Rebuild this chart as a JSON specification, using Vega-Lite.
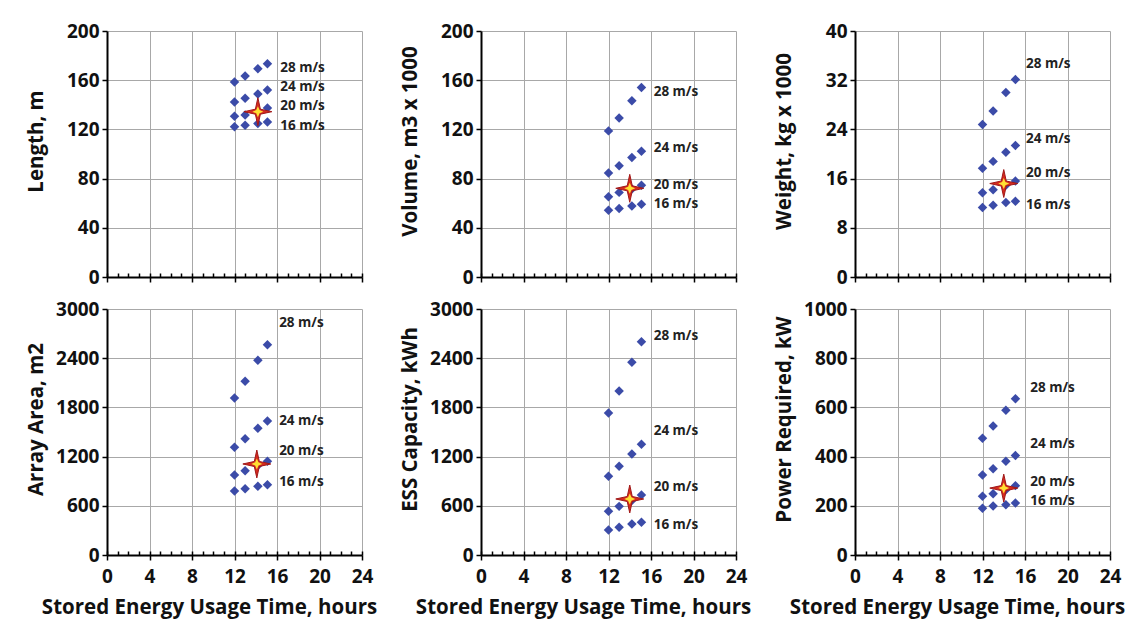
{
  "$schema": "https://vega.github.io/schema/vega-lite/v6.json",
  "background": "white",
  "padding": {"left": 25, "top": 22, "right": 5, "bottom": 5},
  "bounds": "flush",
  "columns": 3,
  "spacing": {"row": 32, "column": 119},
  "datasets": {
    "points": [
      {"panel": "Length", "speed": 28, "x": 12, "y": 158.5}, {"panel": "Length", "speed": 28, "x": 13, "y": 163.4}, {"panel": "Length", "speed": 28, "x": 14.2, "y": 169.4}, {"panel": "Length", "speed": 28, "x": 15.1, "y": 173.4},
      {"panel": "Length", "speed": 24, "x": 12, "y": 142.3}, {"panel": "Length", "speed": 24, "x": 13, "y": 145.3}, {"panel": "Length", "speed": 24, "x": 14.2, "y": 148.8}, {"panel": "Length", "speed": 24, "x": 15.1, "y": 152.0},
      {"panel": "Length", "speed": 20, "x": 12, "y": 130.6}, {"panel": "Length", "speed": 20, "x": 13, "y": 131.7}, {"panel": "Length", "speed": 20, "x": 14.2, "y": 134.5}, {"panel": "Length", "speed": 20, "x": 15.1, "y": 137.4},
      {"panel": "Length", "speed": 16, "x": 12, "y": 122.2}, {"panel": "Length", "speed": 16, "x": 13, "y": 123.3}, {"panel": "Length", "speed": 16, "x": 14.2, "y": 124.7}, {"panel": "Length", "speed": 16, "x": 15.1, "y": 126.0},
      {"panel": "Volume", "speed": 28, "x": 12, "y": 118.8}, {"panel": "Volume", "speed": 28, "x": 13, "y": 129.3}, {"panel": "Volume", "speed": 28, "x": 14.2, "y": 143.3}, {"panel": "Volume", "speed": 28, "x": 15.1, "y": 154.1},
      {"panel": "Volume", "speed": 24, "x": 12, "y": 84.5}, {"panel": "Volume", "speed": 24, "x": 13, "y": 90.4}, {"panel": "Volume", "speed": 24, "x": 14.2, "y": 97.2}, {"panel": "Volume", "speed": 24, "x": 15.1, "y": 102.3},
      {"panel": "Volume", "speed": 20, "x": 12, "y": 65.3}, {"panel": "Volume", "speed": 20, "x": 13, "y": 68.8}, {"panel": "Volume", "speed": 20, "x": 14.2, "y": 71.5}, {"panel": "Volume", "speed": 20, "x": 15.1, "y": 74.5},
      {"panel": "Volume", "speed": 16, "x": 12, "y": 54.3}, {"panel": "Volume", "speed": 16, "x": 13, "y": 55.6}, {"panel": "Volume", "speed": 16, "x": 14.2, "y": 57.8}, {"panel": "Volume", "speed": 16, "x": 15.1, "y": 59.1},
      {"panel": "Weight", "speed": 28, "x": 12, "y": 24.8}, {"panel": "Weight", "speed": 28, "x": 13, "y": 27.0}, {"panel": "Weight", "speed": 28, "x": 14.2, "y": 30.0}, {"panel": "Weight", "speed": 28, "x": 15.1, "y": 32.1},
      {"panel": "Weight", "speed": 24, "x": 12, "y": 17.7}, {"panel": "Weight", "speed": 24, "x": 13, "y": 18.8}, {"panel": "Weight", "speed": 24, "x": 14.2, "y": 20.3}, {"panel": "Weight", "speed": 24, "x": 15.1, "y": 21.4},
      {"panel": "Weight", "speed": 20, "x": 12, "y": 13.7}, {"panel": "Weight", "speed": 20, "x": 13, "y": 14.2}, {"panel": "Weight", "speed": 20, "x": 14.2, "y": 14.9}, {"panel": "Weight", "speed": 20, "x": 15.1, "y": 15.6},
      {"panel": "Weight", "speed": 16, "x": 12, "y": 11.3}, {"panel": "Weight", "speed": 16, "x": 13, "y": 11.65}, {"panel": "Weight", "speed": 16, "x": 14.2, "y": 12.1}, {"panel": "Weight", "speed": 16, "x": 15.1, "y": 12.3},
      {"panel": "Array", "speed": 28, "x": 12, "y": 1915}, {"panel": "Array", "speed": 28, "x": 13, "y": 2118}, {"panel": "Array", "speed": 28, "x": 14.2, "y": 2374}, {"panel": "Array", "speed": 28, "x": 15.1, "y": 2565},
      {"panel": "Array", "speed": 24, "x": 12, "y": 1313}, {"panel": "Array", "speed": 24, "x": 13, "y": 1419}, {"panel": "Array", "speed": 24, "x": 14.2, "y": 1545}, {"panel": "Array", "speed": 24, "x": 15.1, "y": 1634},
      {"panel": "Array", "speed": 20, "x": 12, "y": 976}, {"panel": "Array", "speed": 20, "x": 13, "y": 1028}, {"panel": "Array", "speed": 20, "x": 14.2, "y": 1090}, {"panel": "Array", "speed": 20, "x": 15.1, "y": 1142},
      {"panel": "Array", "speed": 16, "x": 12, "y": 780}, {"panel": "Array", "speed": 16, "x": 13, "y": 809}, {"panel": "Array", "speed": 16, "x": 14.2, "y": 837}, {"panel": "Array", "speed": 16, "x": 15.1, "y": 858},
      {"panel": "ESS", "speed": 28, "x": 12, "y": 1732}, {"panel": "ESS", "speed": 28, "x": 13, "y": 2000}, {"panel": "ESS", "speed": 28, "x": 14.2, "y": 2350}, {"panel": "ESS", "speed": 28, "x": 15.1, "y": 2602},
      {"panel": "ESS", "speed": 24, "x": 12, "y": 959}, {"panel": "ESS", "speed": 24, "x": 13, "y": 1081}, {"panel": "ESS", "speed": 24, "x": 14.2, "y": 1232}, {"panel": "ESS", "speed": 24, "x": 15.1, "y": 1350},
      {"panel": "ESS", "speed": 20, "x": 12, "y": 533}, {"panel": "ESS", "speed": 20, "x": 13, "y": 593}, {"panel": "ESS", "speed": 20, "x": 14.2, "y": 665}, {"panel": "ESS", "speed": 20, "x": 15.1, "y": 732},
      {"panel": "ESS", "speed": 16, "x": 12, "y": 305}, {"panel": "ESS", "speed": 16, "x": 13, "y": 337}, {"panel": "ESS", "speed": 16, "x": 14.2, "y": 378}, {"panel": "ESS", "speed": 16, "x": 15.1, "y": 398},
      {"panel": "Power", "speed": 28, "x": 12, "y": 475}, {"panel": "Power", "speed": 28, "x": 13, "y": 524}, {"panel": "Power", "speed": 28, "x": 14.2, "y": 588}, {"panel": "Power", "speed": 28, "x": 15.1, "y": 635},
      {"panel": "Power", "speed": 24, "x": 12, "y": 325}, {"panel": "Power", "speed": 24, "x": 13, "y": 351}, {"panel": "Power", "speed": 24, "x": 14.2, "y": 381}, {"panel": "Power", "speed": 24, "x": 15.1, "y": 404},
      {"panel": "Power", "speed": 20, "x": 12, "y": 239}, {"panel": "Power", "speed": 20, "x": 13, "y": 249}, {"panel": "Power", "speed": 20, "x": 14.2, "y": 265}, {"panel": "Power", "speed": 20, "x": 15.1, "y": 282},
      {"panel": "Power", "speed": 16, "x": 12, "y": 190}, {"panel": "Power", "speed": 16, "x": 13, "y": 199}, {"panel": "Power", "speed": 16, "x": 14.2, "y": 204}, {"panel": "Power", "speed": 16, "x": 15.1, "y": 211}
    ],
    "stars": [
      {"panel": "Length", "x": 14.2, "y": 134.4},
      {"panel": "Volume", "x": 14.0, "y": 72.1},
      {"panel": "Weight", "x": 14.0, "y": 15.2},
      {"panel": "Array", "x": 14.1, "y": 1110},
      {"panel": "ESS", "x": 14.0, "y": 683},
      {"panel": "Power", "x": 14.0, "y": 272}
    ],
    "labels": [
      {"panel": "Length", "label": "28 m/s", "x": 16.3, "y": 169.6}, {"panel": "Length", "label": "24 m/s", "x": 16.3, "y": 154.7}, {"panel": "Length", "label": "20 m/s", "x": 16.3, "y": 139}, {"panel": "Length", "label": "16 m/s", "x": 16.3, "y": 122.8},
      {"panel": "Volume", "label": "28 m/s", "x": 16.25, "y": 150.6}, {"panel": "Volume", "label": "24 m/s", "x": 16.25, "y": 104.7}, {"panel": "Volume", "label": "20 m/s", "x": 16.25, "y": 74.5}, {"panel": "Volume", "label": "16 m/s", "x": 16.25, "y": 59.6},
      {"panel": "Weight", "label": "28 m/s", "x": 16.1, "y": 34.7}, {"panel": "Weight", "label": "24 m/s", "x": 16.1, "y": 22.4}, {"panel": "Weight", "label": "20 m/s", "x": 16.1, "y": 16.9}, {"panel": "Weight", "label": "16 m/s", "x": 16.1, "y": 11.65},
      {"panel": "Array", "label": "28 m/s", "x": 16.2, "y": 2825}, {"panel": "Array", "label": "24 m/s", "x": 16.2, "y": 1638}, {"panel": "Array", "label": "20 m/s", "x": 16.2, "y": 1264}, {"panel": "Array", "label": "16 m/s", "x": 16.2, "y": 894},
      {"panel": "ESS", "label": "28 m/s", "x": 16.25, "y": 2675}, {"panel": "ESS", "label": "24 m/s", "x": 16.25, "y": 1516}, {"panel": "ESS", "label": "20 m/s", "x": 16.25, "y": 833}, {"panel": "ESS", "label": "16 m/s", "x": 16.25, "y": 370},
      {"panel": "Power", "label": "28 m/s", "x": 16.5, "y": 680}, {"panel": "Power", "label": "24 m/s", "x": 16.5, "y": 452}, {"panel": "Power", "label": "20 m/s", "x": 16.5, "y": 298}, {"panel": "Power", "label": "16 m/s", "x": 16.5, "y": 220}
    ]
  },
  "concat": [
    {
      "width": 255, "height": 246,
      "resolve": {"axis": {"x": "independent"}},
      "layer": [
        {"data": {"name": "points"}, "transform": [{"filter": "datum.panel == 'Length'"}],
         "mark": {"type": "point", "shape": "diamond", "filled": true, "size": 90, "color": "#3b4ba8", "opacity": 1},
         "encoding": {
           "x": {"field": "x", "type": "quantitative", "scale": {"domain": [0, 24], "nice": false}, "axis": {"title": null, "labels": false, "values": [0,4,8,12,16,20,24]}},
           "y": {"field": "y", "type": "quantitative", "scale": {"domain": [0, 200], "nice": false}, "axis": {"title": "Length, m", "values": [0,40,80,120,160,200]}}
         }},
        {"data": {"name": "stars"}, "transform": [{"filter": "datum.panel == 'Length'"}],
         "mark": {"type": "point", "shape": "M0,-1L0.18,-0.18L1,0L0.18,0.18L0,1L-0.18,0.18L-1,0L-0.18,-0.18Z", "filled": true, "size": 780, "color": "#d62a1f", "stroke": "#a01818", "strokeWidth": 1, "opacity": 1},
         "encoding": {"x": {"field": "x", "type": "quantitative", "axis": null}, "y": {"field": "y", "type": "quantitative"}}},
        {"data": {"name": "stars"}, "transform": [{"filter": "datum.panel == 'Length'"}],
         "mark": {"type": "point", "shape": "M0,-1L0.3,-0.3L1,0L0.3,0.3L0,1L-0.3,0.3L-1,0L-0.3,-0.3Z", "filled": true, "size": 120, "color": "#ffe033", "opacity": 1},
         "encoding": {"x": {"field": "x", "type": "quantitative", "axis": null}, "y": {"field": "y", "type": "quantitative"}}},
        {"data": {"name": "labels"}, "transform": [{"filter": "datum.panel == 'Length'"}],
         "mark": {"type": "text", "align": "left", "baseline": "middle", "font": "Open Sans", "fontSize": 13.5, "fontWeight": "bold", "color": "#222222"},
         "encoding": {"x": {"field": "x", "type": "quantitative", "axis": {"orient": "bottom", "title": null, "labels": false, "grid": false, "domain": false, "tickSize": -4, "values": [0,1,2,3,4,5,6,7,8,9,10,11,12,13,14,15,16,17,18,19,20,21,22,23,24]}}, "y": {"field": "y", "type": "quantitative"}, "text": {"field": "label"}}}
      ]
    },
    {
      "width": 255, "height": 246,
      "resolve": {"axis": {"x": "independent"}},
      "layer": [
        {"data": {"name": "points"}, "transform": [{"filter": "datum.panel == 'Volume'"}],
         "mark": {"type": "point", "shape": "diamond", "filled": true, "size": 90, "color": "#3b4ba8", "opacity": 1},
         "encoding": {
           "x": {"field": "x", "type": "quantitative", "scale": {"domain": [0, 24], "nice": false}, "axis": {"title": null, "labels": false, "values": [0,4,8,12,16,20,24]}},
           "y": {"field": "y", "type": "quantitative", "scale": {"domain": [0, 200], "nice": false}, "axis": {"title": "Volume, m3 x 1000", "values": [0,40,80,120,160,200]}}
         }},
        {"data": {"name": "stars"}, "transform": [{"filter": "datum.panel == 'Volume'"}],
         "mark": {"type": "point", "shape": "M0,-1L0.18,-0.18L1,0L0.18,0.18L0,1L-0.18,0.18L-1,0L-0.18,-0.18Z", "filled": true, "size": 780, "color": "#d62a1f", "stroke": "#a01818", "strokeWidth": 1, "opacity": 1},
         "encoding": {"x": {"field": "x", "type": "quantitative", "axis": null}, "y": {"field": "y", "type": "quantitative"}}},
        {"data": {"name": "stars"}, "transform": [{"filter": "datum.panel == 'Volume'"}],
         "mark": {"type": "point", "shape": "M0,-1L0.3,-0.3L1,0L0.3,0.3L0,1L-0.3,0.3L-1,0L-0.3,-0.3Z", "filled": true, "size": 120, "color": "#ffe033", "opacity": 1},
         "encoding": {"x": {"field": "x", "type": "quantitative", "axis": null}, "y": {"field": "y", "type": "quantitative"}}},
        {"data": {"name": "labels"}, "transform": [{"filter": "datum.panel == 'Volume'"}],
         "mark": {"type": "text", "align": "left", "baseline": "middle", "font": "Open Sans", "fontSize": 13.5, "fontWeight": "bold", "color": "#222222"},
         "encoding": {"x": {"field": "x", "type": "quantitative", "axis": {"orient": "bottom", "title": null, "labels": false, "grid": false, "domain": false, "tickSize": -4, "values": [0,1,2,3,4,5,6,7,8,9,10,11,12,13,14,15,16,17,18,19,20,21,22,23,24]}}, "y": {"field": "y", "type": "quantitative"}, "text": {"field": "label"}}}
      ]
    },
    {
      "width": 255, "height": 246,
      "resolve": {"axis": {"x": "independent"}},
      "layer": [
        {"data": {"name": "points"}, "transform": [{"filter": "datum.panel == 'Weight'"}],
         "mark": {"type": "point", "shape": "diamond", "filled": true, "size": 90, "color": "#3b4ba8", "opacity": 1},
         "encoding": {
           "x": {"field": "x", "type": "quantitative", "scale": {"domain": [0, 24], "nice": false}, "axis": {"title": null, "labels": false, "values": [0,4,8,12,16,20,24]}},
           "y": {"field": "y", "type": "quantitative", "scale": {"domain": [0, 40], "nice": false}, "axis": {"title": "Weight, kg x 1000", "values": [0,8,16,24,32,40]}}
         }},
        {"data": {"name": "stars"}, "transform": [{"filter": "datum.panel == 'Weight'"}],
         "mark": {"type": "point", "shape": "M0,-1L0.18,-0.18L1,0L0.18,0.18L0,1L-0.18,0.18L-1,0L-0.18,-0.18Z", "filled": true, "size": 780, "color": "#d62a1f", "stroke": "#a01818", "strokeWidth": 1, "opacity": 1},
         "encoding": {"x": {"field": "x", "type": "quantitative", "axis": null}, "y": {"field": "y", "type": "quantitative"}}},
        {"data": {"name": "stars"}, "transform": [{"filter": "datum.panel == 'Weight'"}],
         "mark": {"type": "point", "shape": "M0,-1L0.3,-0.3L1,0L0.3,0.3L0,1L-0.3,0.3L-1,0L-0.3,-0.3Z", "filled": true, "size": 120, "color": "#ffe033", "opacity": 1},
         "encoding": {"x": {"field": "x", "type": "quantitative", "axis": null}, "y": {"field": "y", "type": "quantitative"}}},
        {"data": {"name": "labels"}, "transform": [{"filter": "datum.panel == 'Weight'"}],
         "mark": {"type": "text", "align": "left", "baseline": "middle", "font": "Open Sans", "fontSize": 13.5, "fontWeight": "bold", "color": "#222222"},
         "encoding": {"x": {"field": "x", "type": "quantitative", "axis": {"orient": "bottom", "title": null, "labels": false, "grid": false, "domain": false, "tickSize": -4, "values": [0,1,2,3,4,5,6,7,8,9,10,11,12,13,14,15,16,17,18,19,20,21,22,23,24]}}, "y": {"field": "y", "type": "quantitative"}, "text": {"field": "label"}}}
      ]
    },
    {
      "width": 255, "height": 246,
      "resolve": {"axis": {"x": "independent"}},
      "layer": [
        {"data": {"name": "points"}, "transform": [{"filter": "datum.panel == 'Array'"}],
         "mark": {"type": "point", "shape": "diamond", "filled": true, "size": 90, "color": "#3b4ba8", "opacity": 1},
         "encoding": {
           "x": {"field": "x", "type": "quantitative", "scale": {"domain": [0, 24], "nice": false}, "axis": {"title": "Stored Energy Usage Time, hours", "values": [0,4,8,12,16,20,24]}},
           "y": {"field": "y", "type": "quantitative", "scale": {"domain": [0, 3000], "nice": false}, "axis": {"title": "Array Area, m2", "format": "d", "values": [0,600,1200,1800,2400,3000]}}
         }},
        {"data": {"name": "stars"}, "transform": [{"filter": "datum.panel == 'Array'"}],
         "mark": {"type": "point", "shape": "M0,-1L0.18,-0.18L1,0L0.18,0.18L0,1L-0.18,0.18L-1,0L-0.18,-0.18Z", "filled": true, "size": 780, "color": "#d62a1f", "stroke": "#a01818", "strokeWidth": 1, "opacity": 1},
         "encoding": {"x": {"field": "x", "type": "quantitative", "axis": null}, "y": {"field": "y", "type": "quantitative"}}},
        {"data": {"name": "stars"}, "transform": [{"filter": "datum.panel == 'Array'"}],
         "mark": {"type": "point", "shape": "M0,-1L0.3,-0.3L1,0L0.3,0.3L0,1L-0.3,0.3L-1,0L-0.3,-0.3Z", "filled": true, "size": 120, "color": "#ffe033", "opacity": 1},
         "encoding": {"x": {"field": "x", "type": "quantitative", "axis": null}, "y": {"field": "y", "type": "quantitative"}}},
        {"data": {"name": "labels"}, "transform": [{"filter": "datum.panel == 'Array'"}],
         "mark": {"type": "text", "align": "left", "baseline": "middle", "font": "Open Sans", "fontSize": 13.5, "fontWeight": "bold", "color": "#222222"},
         "encoding": {"x": {"field": "x", "type": "quantitative", "axis": {"orient": "bottom", "title": null, "labels": false, "grid": false, "domain": false, "tickSize": -4, "values": [0,1,2,3,4,5,6,7,8,9,10,11,12,13,14,15,16,17,18,19,20,21,22,23,24]}}, "y": {"field": "y", "type": "quantitative"}, "text": {"field": "label"}}}
      ]
    },
    {
      "width": 255, "height": 246,
      "resolve": {"axis": {"x": "independent"}},
      "layer": [
        {"data": {"name": "points"}, "transform": [{"filter": "datum.panel == 'ESS'"}],
         "mark": {"type": "point", "shape": "diamond", "filled": true, "size": 90, "color": "#3b4ba8", "opacity": 1},
         "encoding": {
           "x": {"field": "x", "type": "quantitative", "scale": {"domain": [0, 24], "nice": false}, "axis": {"title": "Stored Energy Usage Time, hours", "values": [0,4,8,12,16,20,24]}},
           "y": {"field": "y", "type": "quantitative", "scale": {"domain": [0, 3000], "nice": false}, "axis": {"title": "ESS Capacity, kWh", "format": "d", "values": [0,600,1200,1800,2400,3000]}}
         }},
        {"data": {"name": "stars"}, "transform": [{"filter": "datum.panel == 'ESS'"}],
         "mark": {"type": "point", "shape": "M0,-1L0.18,-0.18L1,0L0.18,0.18L0,1L-0.18,0.18L-1,0L-0.18,-0.18Z", "filled": true, "size": 780, "color": "#d62a1f", "stroke": "#a01818", "strokeWidth": 1, "opacity": 1},
         "encoding": {"x": {"field": "x", "type": "quantitative", "axis": null}, "y": {"field": "y", "type": "quantitative"}}},
        {"data": {"name": "stars"}, "transform": [{"filter": "datum.panel == 'ESS'"}],
         "mark": {"type": "point", "shape": "M0,-1L0.3,-0.3L1,0L0.3,0.3L0,1L-0.3,0.3L-1,0L-0.3,-0.3Z", "filled": true, "size": 120, "color": "#ffe033", "opacity": 1},
         "encoding": {"x": {"field": "x", "type": "quantitative", "axis": null}, "y": {"field": "y", "type": "quantitative"}}},
        {"data": {"name": "labels"}, "transform": [{"filter": "datum.panel == 'ESS'"}],
         "mark": {"type": "text", "align": "left", "baseline": "middle", "font": "Open Sans", "fontSize": 13.5, "fontWeight": "bold", "color": "#222222"},
         "encoding": {"x": {"field": "x", "type": "quantitative", "axis": {"orient": "bottom", "title": null, "labels": false, "grid": false, "domain": false, "tickSize": -4, "values": [0,1,2,3,4,5,6,7,8,9,10,11,12,13,14,15,16,17,18,19,20,21,22,23,24]}}, "y": {"field": "y", "type": "quantitative"}, "text": {"field": "label"}}}
      ]
    },
    {
      "width": 255, "height": 246,
      "resolve": {"axis": {"x": "independent"}},
      "layer": [
        {"data": {"name": "points"}, "transform": [{"filter": "datum.panel == 'Power'"}],
         "mark": {"type": "point", "shape": "diamond", "filled": true, "size": 90, "color": "#3b4ba8", "opacity": 1},
         "encoding": {
           "x": {"field": "x", "type": "quantitative", "scale": {"domain": [0, 24], "nice": false}, "axis": {"title": "Stored Energy Usage Time, hours", "values": [0,4,8,12,16,20,24]}},
           "y": {"field": "y", "type": "quantitative", "scale": {"domain": [0, 1000], "nice": false}, "axis": {"title": "Power Required, kW", "format": "d", "values": [0,200,400,600,800,1000]}}
         }},
        {"data": {"name": "stars"}, "transform": [{"filter": "datum.panel == 'Power'"}],
         "mark": {"type": "point", "shape": "M0,-1L0.18,-0.18L1,0L0.18,0.18L0,1L-0.18,0.18L-1,0L-0.18,-0.18Z", "filled": true, "size": 780, "color": "#d62a1f", "stroke": "#a01818", "strokeWidth": 1, "opacity": 1},
         "encoding": {"x": {"field": "x", "type": "quantitative", "axis": null}, "y": {"field": "y", "type": "quantitative"}}},
        {"data": {"name": "stars"}, "transform": [{"filter": "datum.panel == 'Power'"}],
         "mark": {"type": "point", "shape": "M0,-1L0.3,-0.3L1,0L0.3,0.3L0,1L-0.3,0.3L-1,0L-0.3,-0.3Z", "filled": true, "size": 120, "color": "#ffe033", "opacity": 1},
         "encoding": {"x": {"field": "x", "type": "quantitative", "axis": null}, "y": {"field": "y", "type": "quantitative"}}},
        {"data": {"name": "labels"}, "transform": [{"filter": "datum.panel == 'Power'"}],
         "mark": {"type": "text", "align": "left", "baseline": "middle", "font": "Open Sans", "fontSize": 13.5, "fontWeight": "bold", "color": "#222222"},
         "encoding": {"x": {"field": "x", "type": "quantitative", "axis": {"orient": "bottom", "title": null, "labels": false, "grid": false, "domain": false, "tickSize": -4, "values": [0,1,2,3,4,5,6,7,8,9,10,11,12,13,14,15,16,17,18,19,20,21,22,23,24]}}, "y": {"field": "y", "type": "quantitative"}, "text": {"field": "label"}}}
      ]
    }
  ],
  "config": {
    "view": {"stroke": null},
    "axis": {
      "domain": true, "ticks": true,
      "labelFont": "Open Sans", "labelFontSize": 19, "labelFontWeight": "bold", "labelColor": "#111111",
      "titleFont": "Open Sans", "titleFontSize": 20.5, "titleFontWeight": "bold", "titleColor": "#111111",
      "gridColor": "#a8a8a8", "gridWidth": 1,
      "gridOpacity": {"condition": {"test": "datum.value == 0", "value": 0}, "value": 1},
      "domainColor": "#000000", "domainWidth": 2,
      "tickColor": "#000000", "tickWidth": 1.5
    },
    "axisY": {"tickSize": 5, "labelPadding": 3, "titleX": -71, "titleY": 110, "titleBaseline": "middle", "titleAngle": -90},
    "axisX": {"tickSize": 5, "labelPadding": 7, "titleX": 102, "titlePadding": 11, "labelFlush": false, "labelOverlap": false}
  }
}
